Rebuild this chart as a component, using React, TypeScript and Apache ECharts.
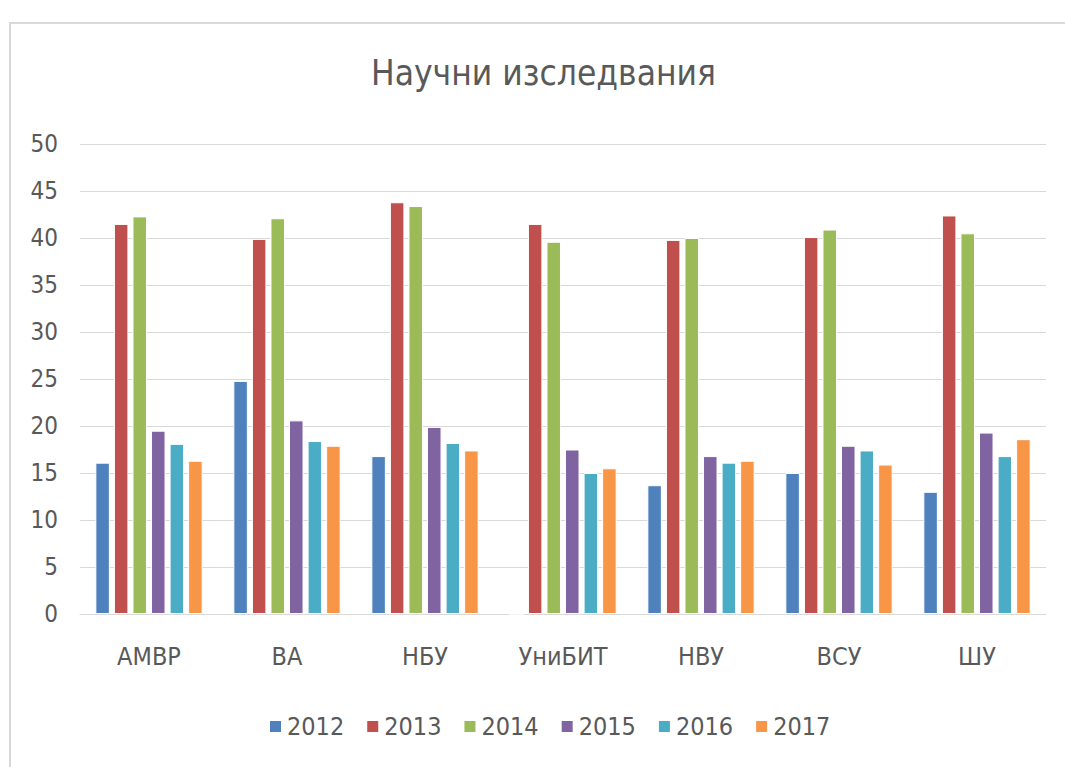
import React, { useEffect, useRef } from "react";
import * as echarts from "echarts";

const categories = ["АМВР", "ВА", "НБУ", "УниБИТ", "НВУ", "ВСУ", "ШУ"];
const years = ["2012", "2013", "2014", "2015", "2016", "2017"];
const v2012 = [16.1, 24.8, 16.8, 0, 13.7, 15.0, 13.0];
const v2013 = [41.5, 39.9, 43.8, 41.5, 39.8, 40.1, 42.4];
const v2014 = [42.3, 42.1, 43.4, 39.6, 40.0, 40.9, 40.5];
const v2015 = [19.5, 20.6, 19.9, 17.5, 16.8, 17.9, 19.3];
const v2016 = [18.1, 18.4, 18.2, 15.0, 16.1, 17.4, 16.8];
const v2017 = [16.3, 17.9, 17.4, 15.5, 16.3, 15.9, 18.6];
const seriesValues = [v2012, v2013, v2014, v2015, v2016, v2017];
const colors = ["#4F81BD", "#C0504D", "#9BBB59", "#8064A2", "#4BACC6", "#F79646"];
const yTicks = [0, 5, 10, 15, 20, 25, 30, 35, 40, 45, 50];

const FONT = "'Liberation Sans Narrow', 'DejaVu Sans Condensed', 'Open Sans', sans-serif";

export default function App() {
  const ref = useRef<HTMLDivElement>(null);
  useEffect(() => {
    if (!ref.current) return;
    const chart = echarts.init(ref.current, null, { renderer: "svg" });
    chart.setOption({
      animation: false,
      color: colors,
      textStyle: { fontFamily: FONT },
      title: {
        text: "Научни изследвания",
        left: 366,
        top: 50,
        textStyle: { fontFamily: FONT, fontSize: 35, fontWeight: "normal", color: "#595959" },
      },
      graphic: [
        {
          type: "rect",
          shape: { x: 10, y: 23, width: 1080, height: 800 },
          style: { fill: "none", stroke: "#d9d9d9", lineWidth: 2 },
          silent: true,
        },
      ],
      legend: {
        bottom: 23,
        left: 263,
        itemWidth: 13,
        itemHeight: 13,
        itemGap: 21,
        icon: "rect",
        textStyle: { fontFamily: FONT, fontSize: 25, color: "#595959" },
        data: years,
      },
      grid: { left: 80, right: 19, top: 144, bottom: 153, containLabel: false },
      xAxis: {
        type: "category",
        data: categories,
        axisLine: { lineStyle: { color: "#d9d9d9", width: 1 } },
        axisTick: { show: false },
        axisLabel: { fontFamily: FONT, fontSize: 25, color: "#595959", margin: 30 },
      },
      yAxis: {
        type: "value",
        min: 0,
        max: 50,
        interval: 5,
        axisLine: { show: false },
        axisTick: { show: false },
        splitLine: { lineStyle: { color: "#d9d9d9", width: 1 } },
        axisLabel: {
          fontFamily: FONT,
          fontSize: 24,
          color: "#595959",
          margin: 22,
          formatter: (v: number) => (yTicks.includes(v) ? String(v) : ""),
        },
      },
      series: years.map((y, i) => ({
        name: y,
        type: "bar",
        data: seriesValues[i],
        barWidth: 14.5,
        barGap: "28%",
        itemStyle: { color: colors[i], borderColor: "#ffffff", borderWidth: 1 },
      })),
    });
    return () => chart.dispose();
  }, []);
  return (
    <div
      ref={ref}
      style={{ position: "fixed", left: 0, top: 0, width: 1065, height: 767, background: "#fff" }}
    />
  );
}
